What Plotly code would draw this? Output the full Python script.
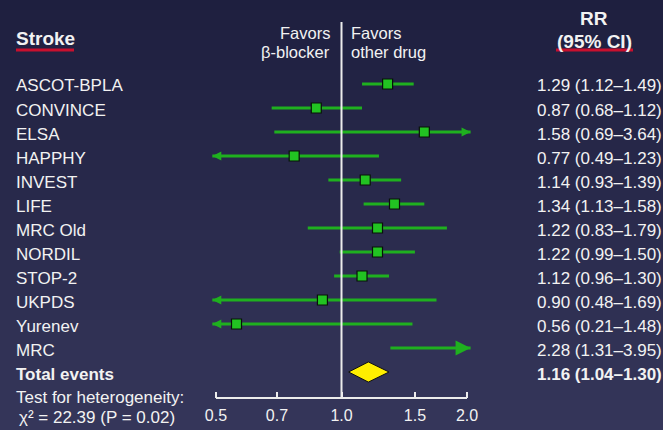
import plotly.graph_objects as go

# forest plot data: risk ratios for stroke
studies = ["ASCOT-BPLA", "CONVINCE", "ELSA", "HAPPHY", "INVEST", "LIFE",
           "MRC Old", "NORDIL", "STOP-2", "UKPDS", "Yurenev", "MRC"]
rr = [1.29, 0.87, 1.58, 0.77, 1.14, 1.34, 1.22, 1.22, 1.12, 0.90, 0.56, 2.28]
ci_low = [1.12, 0.68, 0.69, 0.49, 0.93, 1.13, 0.83, 0.99, 0.96, 0.48, 0.21, 1.31]
ci_high = [1.49, 1.12, 3.64, 1.23, 1.39, 1.58, 1.79, 1.50, 1.30, 1.69, 1.48, 3.95]
total_label = "Total events"
total_rr = 1.16
total_low = 1.04
total_high = 1.30
heterogeneity = ["Test for heterogeneity:", "χ² = 22.39 (P = 0.02)"]
tick_vals = [0.5, 0.7, 1.0, 1.5, 2.0]
tick_text = ["0.5", "0.7", "1.0", "1.5", "2.0"]

AX_MIN, AX_MAX = 0.5, 2.0
CLIP_LO, CLIP_HI = 0.49, 2.04
GREEN = "#1fb01f"
BOX = "#22c322"
FONT = "Liberation Sans, Arial, Helvetica, sans-serif"
TXT = "#f2f2f2"

W, H = 663, 430
L, R, T, B = 205, 480, 22, 398


def px(x):
    return (x - L) / (R - L)


def py(y):
    return (B - y) / (B - T)


fig = go.Figure()

# background gradient
n = 43
top, bot = (30, 31, 63), (53, 54, 90)
for i in range(n):
    f = i / (n - 1)
    c = tuple(round(top[k] + (bot[k] - top[k]) * f) for k in range(3))
    fig.add_shape(type="rect", xref="paper", yref="paper", layer="below",
                  x0=px(0), x1=px(W), y0=py(i * 10), y1=py(i * 10 + 10.5),
                  line_width=0, fillcolor="rgb(%d,%d,%d)" % c)

for i, name in enumerate(studies):
    y = -i
    lo = max(ci_low[i], CLIP_LO)
    hi = min(ci_high[i], CLIP_HI)
    fig.add_trace(go.Scatter(x=[lo, hi], y=[y, y], mode="lines",
                             line=dict(color=GREEN, width=3),
                             hoverinfo="skip", showlegend=False))
    big = rr[i] > AX_MAX or rr[i] < AX_MIN
    if ci_low[i] < AX_MIN:
        fig.add_trace(go.Scatter(x=[CLIP_LO], y=[y], mode="markers",
                                 marker=dict(symbol="arrow-left", size=15 if big else 9,
                                             color=GREEN, line_width=0),
                                 hoverinfo="skip", showlegend=False))
    if ci_high[i] > AX_MAX:
        fig.add_trace(go.Scatter(x=[CLIP_HI], y=[y], mode="markers",
                                 marker=dict(symbol="arrow-right", size=15 if big else 9,
                                             color=GREEN, line_width=0),
                                 hoverinfo="skip", showlegend=False))

fig.add_trace(go.Scatter(x=rr, y=[-i for i in range(len(studies))], mode="markers",
                         marker=dict(symbol="square", size=10, color=BOX,
                                     line=dict(color="#081208", width=1.2)),
                         hoverinfo="skip", showlegend=False))

# pooled estimate diamond
ty = -len(studies)
fig.add_trace(go.Scatter(x=[total_low, total_rr, total_high, total_rr, total_low],
                         y=[ty, ty + 0.42, ty, ty - 0.42, ty],
                         mode="lines", fill="toself", fillcolor="#ffee00",
                         line=dict(color="#111111", width=1),
                         hoverinfo="skip", showlegend=False))

# reference line and axis base
fig.add_shape(type="line", xref="x", yref="paper", x0=1, x1=1, y0=0, y1=1,
              line=dict(color="#ececec", width=2))
fig.add_shape(type="line", xref="x", yref="paper", x0=AX_MIN, x1=AX_MAX, y0=0, y1=0,
              line=dict(color="#ececec", width=2))

ann = []


def text(x, y, s, anchor="left", size=17, bold=False, yref="paper"):
    if bold:
        s = "<b>%s</b>" % s
    nudge = {"left": -2, "right": 2}.get(anchor, 0)
    ann.append(dict(x=px(x), y=y if yref == "y" else py(y), xref="paper", yref=yref,
                    text=s, showarrow=False, xanchor=anchor, yanchor="middle",
                    xshift=nudge, yshift=-2,
                    font=dict(family=FONT, size=size, color=TXT)))


for i, name in enumerate(studies):
    text(16, -i, name, yref="y")
    text(662, -i, "%.2f (%.2f–%.2f)" % (rr[i], ci_low[i], ci_high[i]), anchor="right", yref="y")
text(16, ty, total_label, bold=True, yref="y")
text(662, ty, "%.2f (%.2f–%.2f)" % (total_rr, total_low, total_high), anchor="right",
     bold=True, yref="y")
text(16, 395, heterogeneity[0])
text(19, 415, heterogeneity[1])

text(16, 36, "Stroke", size=19, bold=True)
text(594, 16, "RR", anchor="center", size=19, bold=True)
text(594, 40, "(95% CI)", anchor="center", size=19, bold=True)
text(330, 31, "Favors", anchor="right", size=16.5)
text(330, 50, "β-blocker", anchor="right", size=16.5)
text(351, 31, "Favors", size=16.5)
text(351, 50, "other drug", size=16.5)

fig.add_shape(type="line", xref="paper", yref="paper", x0=px(16), x1=px(74),
              y0=py(50), y1=py(50), line=dict(color="#c8102e", width=3))
fig.add_shape(type="line", xref="paper", yref="paper", x0=px(556), x1=px(633),
              y0=py(50), y1=py(50), line=dict(color="#c8102e", width=3))

fig.update_layout(
    width=W, height=H,
    margin=dict(l=L, r=W - R, t=T, b=H - B),
    paper_bgcolor="#262748", plot_bgcolor="rgba(0,0,0,0)",
    annotations=ann,
    xaxis=dict(type="log", range=[-0.3274, 0.3322], showgrid=False, zeroline=False,
               showline=False, tickvals=tick_vals, ticktext=tick_text,
               ticks="inside", ticklen=6, tickwidth=2, tickcolor="#ececec",
               ticklabelstandoff=6, automargin=False,
               tickfont=dict(family=FONT, size=16, color=TXT), fixedrange=True),
    yaxis=dict(range=[-13.083, 2.583], visible=False, fixedrange=True,
               automargin=False),
)

# the page body keeps a default margin; drop it so the figure sits at the corner
fig.write_html("out.html", config={"displayModeBar": False},
               post_script="document.body.style.margin='0';"
                           "document.body.style.overflow='hidden';")
